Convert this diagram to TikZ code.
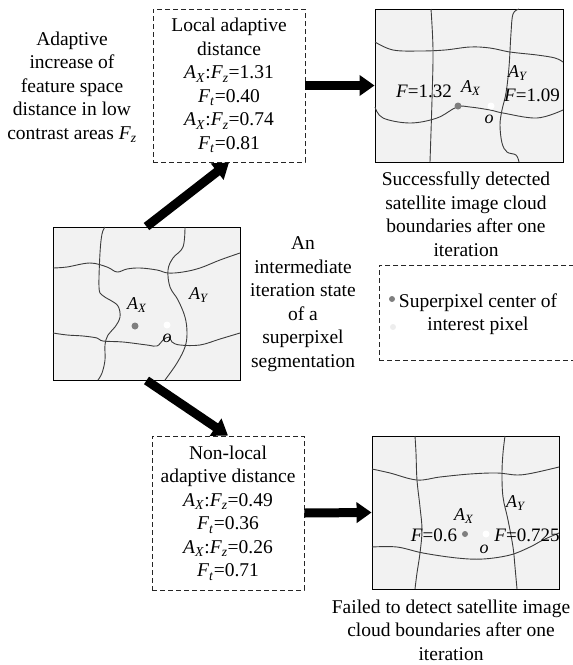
\documentclass[tikz,border=0pt]{standalone}
\usepackage{fontspec}
\setmainfont{Liberation Serif}
\usetikzlibrary{arrows.meta}

\definecolor{cellfill}{HTML}{F2F2F2}
\definecolor{edgegray}{HTML}{3C3C3C}
\definecolor{dotgray}{HTML}{7F7F7F}
\definecolor{dotlight}{HTML}{EDEDED}

\newcommand{\AX}{\textit{A}\textsubscript{\textit{X}}}
\newcommand{\AY}{\textit{A}\textsubscript{\textit{Y}}}
\newcommand{\Fz}{\textit{F}\textsubscript{\textit{z}}}
\newcommand{\Ft}{\textit{F}\textsubscript{\textit{t}}}

\tikzset{
  txt/.style={align=center, inner sep=0pt, font=\fontsize{19.5}{23.5}\selectfont},
  lbl/.style={inner sep=0pt, font=\fontsize{18}{20}\selectfont},
  distbox/.style={draw=black!85, line width=0.9pt, dash pattern=on 5pt off 3pt, inner sep=0pt},
  segframe/.style={draw=black, fill=cellfill, line width=0.9pt, inner sep=0pt,
    minimum width=187pt, minimum height=153pt},
  seg/.style={edgegray, line width=0.9pt},
  fatarrow/.style={line width=9pt, -{Triangle[length=15pt,width=20pt]}},
  cdot/.style={circle, fill=dotgray, inner sep=0pt, minimum size=7pt},
  odot/.style={circle, fill=white, inner sep=0pt, minimum size=7pt},
}

\begin{document}
\begin{tikzpicture}[x=1pt,y=-1pt]
  \useasboundingbox (0,0) rectangle (573,665);

  %%%%% distance boxes %%%%%
  \node[distbox, minimum width=152pt, minimum height=153pt] (local) at (229,85.5) {};
  \node[txt] at (local) {Local adaptive\\distance\\\AX:\Fz=1.31\\\Ft=0.40\\\AX:\Fz=0.74\\\Ft=0.81};

  \node[distbox, minimum width=152pt, minimum height=154pt] (nonlocal) at (228,513) {};
  \node[txt] at (nonlocal) {Non-local\\adaptive distance\\\AX:\Fz=0.49\\\Ft=0.36\\\AX:\Fz=0.26\\\Ft=0.71};

  \node[txt] (note) at (72,87) {Adaptive\\increase of\\feature space\\distance in low\\contrast areas \Fz};

  %%%%% intermediate state %%%%%
  \node[segframe] (mid) at (146.5,303.5) {};
  \draw[seg] plot[smooth, tension=0.6] coordinates {(105,227) (102,234) (100,253) (99,287) (102,295) (110,300) (118,306) (120,317) (115,327) (108,335) (105,345) (105,360) (102,373) (98,380)};
  \draw[seg] plot[smooth, tension=0.6] coordinates {(185,227) (183,247) (173,258) (168,270) (170,287) (178,300) (185,317) (187,333) (185,347) (177,363) (165,380)};
  \draw[seg] plot[smooth, tension=0.6] coordinates {(53,268) (67,267) (90,263) (107,267) (117,272) (127,269) (140,268) (157,270) (168,273) (183,272) (200,268) (220,260) (240,253)};
  \draw[seg] plot[smooth, tension=0.6] coordinates {(53,333) (67,335) (83,336) (97,338) (103,341) (123,342) (147,345) (157,346) (163,340) (169,337) (172,342) (180,345) (200,345) (220,339) (240,333)};
  \node[lbl] at (137,305) {\AX};
  \node[lbl] at (199,295) {\AY};
  \node[cdot] at (135,326) {};
  \node[odot] at (167,325) {};
  \node[lbl] at (167,338) {\textit{o}};

  \node[txt] (state) at (303,304) {An\\intermediate\\iteration state\\of a\\superpixel\\segmentation};

  %%%%% local result %%%%%
  \node[segframe, minimum width=188pt] (res1) at (469,85.5) {};
  \draw[seg] plot[smooth, tension=0.6] coordinates {(431,9) (433,50) (432,100) (430,162)};
  \draw[seg] plot[smooth, tension=0.6] coordinates {(519,9) (513,14) (511,33) (509,67) (506,93) (502,110) (500,125) (502,143) (507,152) (516,155) (519,162)};
  \draw[seg] plot[smooth, tension=0.6] coordinates {(375,42) (393,50) (420,51) (445,50) (470,47) (490,48) (510,52) (537,55) (555,58) (563,62)};
  \draw[seg] plot[smooth, tension=0.6] coordinates {(375,107) (383,118) (410,123) (437,118) (457,107) (470,107) (490,110) (503,113) (537,118) (563,110)};
  \node[lbl, font=\fontsize{19}{21}\selectfont] at (424,91) {\textit{F}=1.32};
  \node[lbl] at (471,88) {\AX};
  \node[lbl] at (518,73) {\AY};
  \node[lbl, font=\fontsize{19}{21}\selectfont] at (532,95) {\textit{F}=1.09};
  \node[cdot] at (458,106) {};
  \node[odot] at (491,106) {};
  \node[lbl] at (489,119) {\textit{o}};

  \node[txt] (cap1) at (466,214) {Successfully detected\\satellite image cloud\\boundaries after one\\iteration};

  %%%%% legend %%%%%
  \node[distbox, minimum width=202pt, minimum height=95pt, anchor=north west] (legend) at (379,265) {};
  \node[cdot, minimum size=6pt] at (392,299) {};
  \node[circle, fill=dotlight, inner sep=0pt, minimum size=6pt] at (393,327) {};
  \node[txt] at (478,314) {Superpixel center of\\interest pixel};

  %%%%% non-local result %%%%%
  \node[segframe] (res2) at (465.5,512.5) {};
  \draw[seg] plot[smooth, tension=0.6] coordinates {(415,436) (416,453) (417,480) (420,507) (422,530) (420,553) (417,573) (415,589)};
  \draw[seg] plot[smooth, tension=0.6] coordinates {(505,436) (503,453) (502,473) (503,497) (508,520) (513,547) (515,567) (517,589)};
  \draw[seg] plot[smooth, tension=0.6] coordinates {(372,469) (390,473) (417,480) (440,477) (470,474) (497,473) (517,475) (533,473) (559,467)};
  \draw[seg] plot[smooth, tension=0.6] coordinates {(372,547) (397,547) (423,553) (457,558) (483,559) (510,555) (530,547) (543,540) (559,533)};
  \node[lbl] at (464,516) {\AX};
  \node[lbl] at (516,503) {\AY};
  \node[lbl, font=\fontsize{19}{21}\selectfont] at (434,535) {\textit{F}=0.6};
  \node[lbl, font=\fontsize{19}{21}\selectfont] at (527,535) {\textit{F}=0.725};
  \node[cdot, minimum size=6pt] at (465,534) {};
  \node[odot] at (486,534) {};
  \node[lbl] at (484,549) {\textit{o}};

  \node[txt] (cap2) at (451,630) {Failed to detect satellite image\\cloud boundaries after one\\iteration};

  %%%%% arrows %%%%%
  \draw[fatarrow] (mid.north) -- (local.south);
  \draw[fatarrow] (mid.south) -- (nonlocal.north);
  \draw[fatarrow] (local.east) -- (res1.west);
  \draw[fatarrow] (nonlocal.east) -- (res2.west);
\end{tikzpicture}
\end{document}
